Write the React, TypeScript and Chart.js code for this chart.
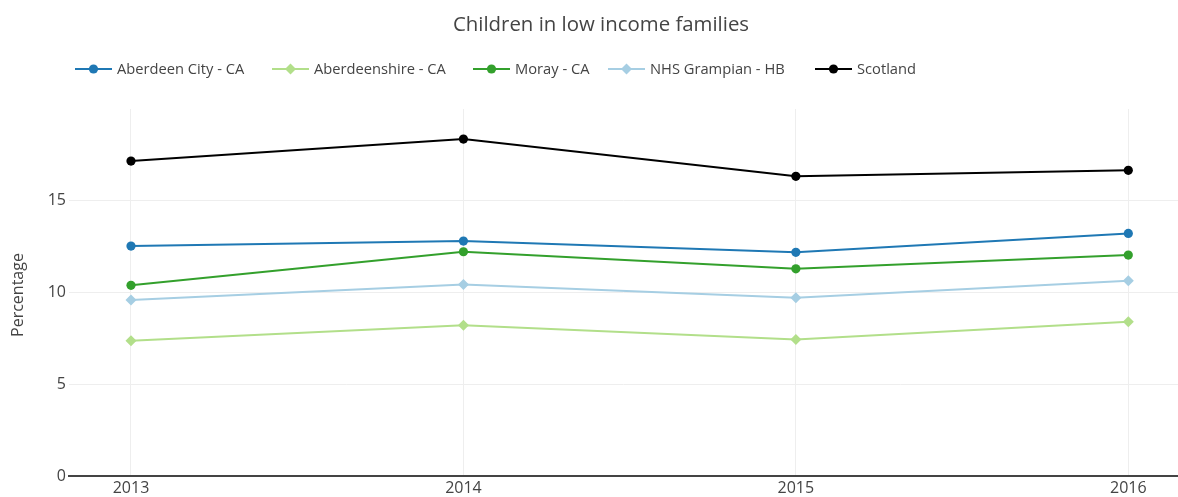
import React, { useEffect, useRef } from "react";
import { Chart, registerables } from "chart.js";

Chart.register(...registerables);

const chartTitle = "Children in low income families";
const yAxisTitle = "Percentage";
const years = [2013, 2014, 2015, 2016];
const yTickValues = [0, 5, 10, 15];

const seriesNames = ["Aberdeen City - CA", "Aberdeenshire - CA", "Moray - CA", "NHS Grampian - HB", "Scotland"];
const aberdeenCity = [12.53, 12.8, 12.19, 13.22];
const aberdeenshire = [7.37, 8.22, 7.44, 8.4];
const moray = [10.39, 12.22, 11.29, 12.04];
const nhsGrampian = [9.59, 10.44, 9.71, 10.64];
const scotland = [17.16, 18.36, 16.33, 16.66];

const seriesValues = [aberdeenCity, aberdeenshire, moray, nhsGrampian, scotland];
const seriesColors = ["#1f78b4", "#b2df8a", "#33a02c", "#a6cee3", "#000000"];
const seriesMarkers = ["circle", "rectRot", "circle", "rectRot", "circle"];

const FONT = "'Open Sans', 'Noto Sans', sans-serif";
const TEXT = "#444";
const legendStarts = [75, 272, 473, 608, 815];

const overlayPlugin = {
  id: "overlay",
  afterDraw(chart: any) {
    const ctx = chart.ctx;
    ctx.save();
    // title
    ctx.fillStyle = TEXT;
    ctx.font = `20.4px ${FONT}`;
    ctx.textAlign = "center";
    ctx.textBaseline = "alphabetic";
    ctx.fillText(chartTitle, 601, 31);

    // y axis title
    ctx.save();
    ctx.translate(18, 295);
    ctx.rotate(-Math.PI / 2);
    ctx.font = `16px ${FONT}`;
    ctx.textAlign = "center";
    ctx.textBaseline = "middle";
    ctx.fillText(yAxisTitle, 0, 0);
    ctx.restore();

    // legend
    const ly = 69;
    chart.data.datasets.forEach((ds: any, i: number) => {
      const x0 = legendStarts[i];
      ctx.strokeStyle = ds.borderColor;
      ctx.lineWidth = 2;
      ctx.beginPath();
      ctx.moveTo(x0, ly);
      ctx.lineTo(x0 + 37, ly);
      ctx.stroke();
      ctx.fillStyle = ds.borderColor;
      ctx.beginPath();
      if (ds.pointStyle === "rectRot") {
        const r = ds.pointRadius;
        ctx.moveTo(x0 + 18.5, ly - r);
        ctx.lineTo(x0 + 18.5 + r, ly);
        ctx.lineTo(x0 + 18.5, ly + r);
        ctx.lineTo(x0 + 18.5 - r, ly);
        ctx.closePath();
      } else {
        ctx.arc(x0 + 18.5, ly, ds.pointRadius, 0, Math.PI * 2);
      }
      ctx.fill();
      ctx.fillStyle = TEXT;
      ctx.font = `14.7px ${FONT}`;
      ctx.textAlign = "left";
      ctx.textBaseline = "middle";
      ctx.fillText(ds.label, x0 + 42, ly + 1);
    });
    ctx.restore();
  },
};

export default function App() {
  const ref = useRef<HTMLCanvasElement>(null);
  useEffect(() => {
    if (!ref.current) return;
    const datasets = seriesNames.map((name, i) => ({
      label: name,
      data: years.map((yr, j) => ({ x: yr, y: seriesValues[i][j] })),
      borderColor: seriesColors[i],
      backgroundColor: seriesColors[i],
      pointBackgroundColor: seriesColors[i],
      pointBorderWidth: 0,
      pointStyle: seriesMarkers[i],
      pointRadius: seriesMarkers[i] === "rectRot" ? 5.5 : 4.6,
      borderWidth: 2,
      tension: 0,
    }));
    const chart = new Chart(ref.current, {
      type: "line",
      data: { datasets },
      plugins: [overlayPlugin],
      options: {
        animation: false,
        responsive: false,
        layout: { autoPadding: false, padding: { top: 109, left: 0, right: 0, bottom: 0 } },
        plugins: { legend: { display: false }, title: { display: false }, tooltip: { enabled: false } },
        scales: {
          x: {
            type: "linear",
            min: 2012.8135,
            max: 2016.1495,
            afterBuildTicks: (s: any) => {
              s.ticks = years.map((v) => ({ value: v }));
            },
            afterFit: (s: any) => {
              s.height = 21;
              s.paddingLeft = 0;
              s.paddingRight = 0;
            },
            ticks: {
              font: { family: FONT, size: 16 },
              color: TEXT,
              padding: 3,
              maxRotation: 0,
              autoSkip: false,
              callback: (v: any) => String(v),
            },
            grid: { color: "#eeeeee", lineWidth: 1, drawTicks: false },
            border: { display: true, color: "#444444", width: 2 },
          },
          y: {
            type: "linear",
            min: 0,
            max: 20,
            afterBuildTicks: (s: any) => {
              s.ticks = yTickValues.map((v) => ({ value: v }));
            },
            afterFit: (s: any) => {
              s.width = 69;
              s.paddingTop = 0;
              s.paddingBottom = 0;
            },
            ticks: {
              font: { family: FONT, size: 16 },
              color: TEXT,
              padding: 3,
              callback: (v: any) => String(v),
            },
            grid: {
              color: (c: any) => (c.tick && c.tick.value === 0 ? "rgba(0,0,0,0)" : "#eeeeee"),
              lineWidth: 1,
              drawTicks: false,
            },
            border: { display: false },
          },
        },
      },
    } as any);
    return () => chart.destroy();
  }, []);
  return (
    <div style={{ position: "fixed", left: 0, top: 0, width: 1178, height: 497, background: "#fff" }}>
      <canvas ref={ref} width={1178} height={497} style={{ display: "block" }} />
    </div>
  );
}
